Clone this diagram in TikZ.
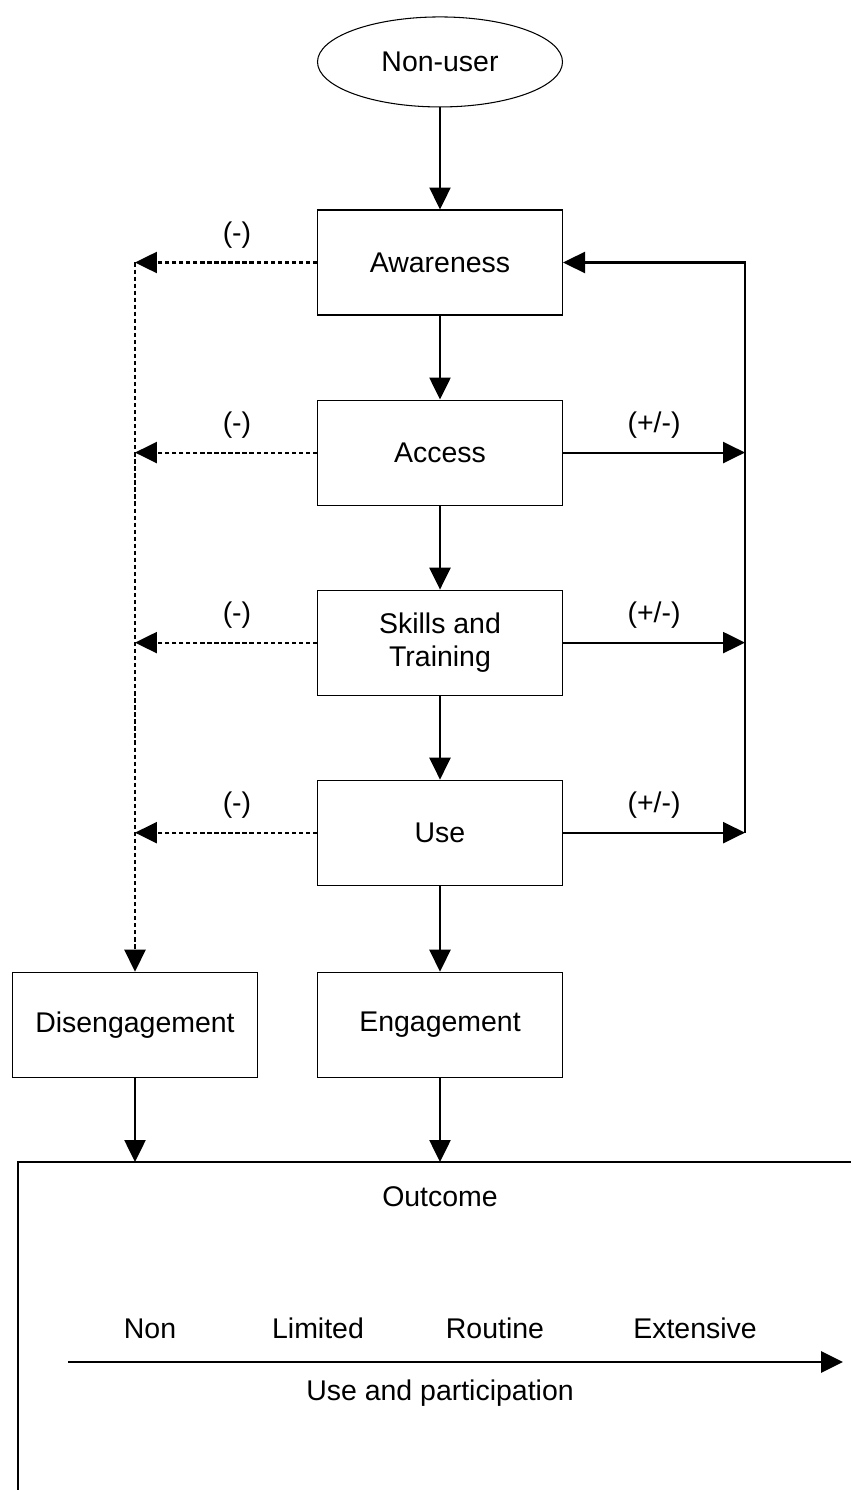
\documentclass[tikz,border=0pt]{standalone}
\usepackage{fontspec}
\setmainfont{Liberation Sans}
\usetikzlibrary{arrows.meta, calc, positioning, shapes.geometric}

\begin{document}
\begin{tikzpicture}[node distance=1.68cm, >={Triangle[length=12.5pt, width=12pt]},
    font=\fontsize{16.2}{18.5}\selectfont,
    stage/.style={draw, rectangle, line width=0.6pt, minimum width=4.9cm, minimum height=2.1cm, align=center, inner sep=2pt},
    scalelbl/.style={text height=1.6ex, text depth=0.4ex},
    arr/.style={->, line width=1.2pt},
    dasharr/.style={->, line width=1.2pt, dash pattern=on 2.4pt off 1.6pt}]
\useasboundingbox (0,0) rectangle (17.02,-29.8);
% Nodes
\node[stage] (aw) at (8.8,-5.25) {Awareness};
\node[draw, ellipse, line width=0.6pt, minimum width=4.9cm, minimum height=1.8cm, above=2.04cm of aw] (non) {Non-user};
\node[stage, below=of aw] (acc) {Access};
\node[stage, below=of acc] (skill) {Skills and\\Training};
\node[stage, below=of skill] (use) {Use};
\node[stage, below=1.72cm of use] (eng) {Engagement};
\node[stage] (dis) at (eng -| 2.7,0) {Disengagement};

% Outcome panel
\coordinate (otl) at (0.36,-23.24);
\coordinate (fb) at (14.9,0);
\draw[line width=0.6pt] (0.36,-29.8) -- (otl) -- (17.02,-23.24);
\node (outc) at (8.8,-23.94) {Outcome};
\node[scalelbl] (lnon) at (3.0,-26.66) {Non};
\node[scalelbl] (llim) at (6.36,-26.66) {Limited};
\node[scalelbl] (lrou) at (9.9,-26.66) {Routine};
\node[scalelbl] (lext) at (13.9,-26.66) {Extensive};
\coordinate (ax0) at (1.36,-27.24);
\coordinate (ax1) at (16.86,-27.24);
\draw[->, line width=1.6pt] (ax0) -- (ax1);
\node (uap) at (8.8,-27.86) {Use and participation};

% Forward arrows
\draw[arr] (non) -- (aw);
\draw[arr] (aw) -- (acc);
\draw[arr] (acc) -- (skill);
\draw[arr] (skill) -- (use);
\draw[arr] (use) -- (eng);
\draw[arr] (dis.south) -- (dis.south |- otl);
\draw[arr] (eng.south) -- (eng.south |- otl);

% Drop-out arrows
\foreach \s in {aw, acc, skill, use}
  \draw[dasharr] (\s.west) -- node[above=4pt, xshift=0.22cm] {(-)} (\s.west -| dis.north);
\draw[dasharr] (aw.west -| dis.north) -- (dis.north);

% Feedback arrows
\foreach \s in {acc, skill, use}
  \draw[arr] (\s.east) -- node[above=4pt] {(+/-)} (\s.east -| fb);
\draw[arr] (use.east -| fb) -- (aw.east -| fb) -- (aw.east);
\end{tikzpicture}
\end{document}
